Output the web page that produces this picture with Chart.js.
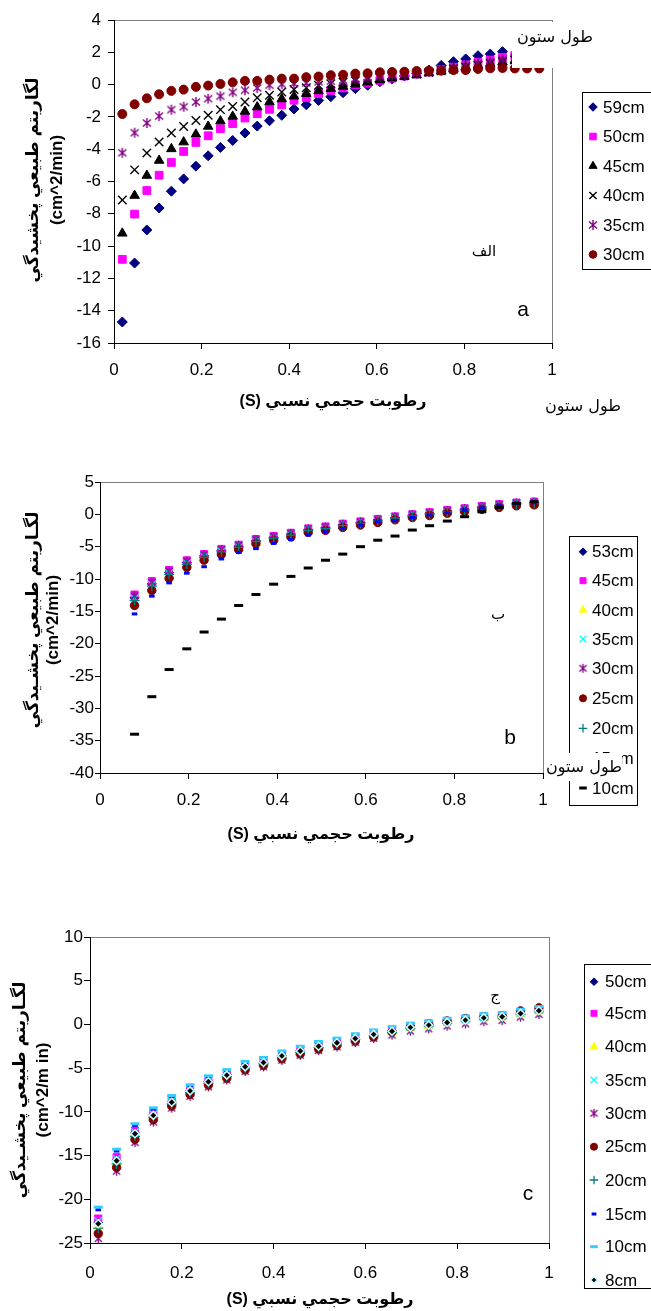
<!DOCTYPE html>
<html><head><meta charset="utf-8">
<script src="https://cdn.jsdelivr.net/npm/chart.js@4"></script>
<style>
html,body{margin:0;padding:0;background:#fff;}
body{width:651px;height:1311px;position:relative;overflow:hidden;}
.wrap{position:absolute;left:0;width:651px;}
canvas{display:block;}
</style></head><body>
<div class="wrap" style="top:0px;height:430px"><canvas id="ca" width="651" height="430"></canvas></div>
<div class="wrap" style="top:440px;height:420px"><canvas id="cb" width="651" height="420"></canvas></div>
<div class="wrap" style="top:900px;height:411px"><canvas id="cc" width="651" height="411"></canvas></div>
<script>
// ---------- DATA ----------
const xTicks = [0, 0.2, 0.4, 0.6, 0.8, 1];
// chart a
const xA = [0.019,0.047,0.075,0.103,0.131,0.159,0.187,0.215,0.243,0.271,0.299,0.327,0.355,0.383,0.411,0.439,0.467,0.495,0.523,0.551,0.579,0.607,0.635,0.663,0.691,0.719,0.747,0.775,0.803,0.831,0.859,0.887,0.915,0.943,0.971];
const a59 = [-14.7,-11.05,-9.0,-7.64,-6.6,-5.84,-5.05,-4.41,-3.89,-3.46,-3.0,-2.57,-2.24,-1.9,-1.51,-1.25,-0.98,-0.75,-0.5,-0.25,-0.04,0.18,0.35,0.53,0.7,0.9,1.19,1.42,1.59,1.79,1.89,2.04];
const a50 = [-10.82,-8.02,-6.56,-5.61,-4.82,-4.14,-3.58,-3.17,-2.73,-2.42,-2.07,-1.8,-1.53,-1.26,-0.97,-0.8,-0.56,-0.36,-0.2,-0.02,0.1,0.26,0.4,0.53,0.65,0.78,0.92,1.08,1.22,1.38,1.52,1.68,1.8];
const a45 = [-9.21,-6.87,-5.63,-4.7,-3.98,-3.56,-3.08,-2.59,-2.26,-1.97,-1.66,-1.39,-1.08,-0.89,-0.72,-0.56,-0.39,-0.25,-0.12,0.02,0.15,0.28,0.4,0.5,0.6,0.72,0.84,0.96,1.08,1.2,1.3,1.4,1.5];
const a40 = [-7.14,-5.28,-4.24,-3.56,-3.0,-2.59,-2.22,-1.9,-1.55,-1.35,-1.08,-0.81,-0.66,-0.46,-0.31,-0.19,-0.04,0.06,0.15,0.24,0.32,0.42,0.5,0.58,0.66,0.76,0.86,0.96,1.08,1.2,1.3,1.42,1.52];
const a35 = [-4.22,-2.98,-2.38,-1.95,-1.55,-1.37,-1.08,-0.87,-0.72,-0.48,-0.35,-0.21,-0.04,0.02,0.06,0.1,0.17,0.21,0.28,0.36,0.42,0.5,0.56,0.62,0.7,0.8,0.92,1.04,1.16,1.3,1.42,1.55,1.65];
const a30 = [-1.82,-1.22,-0.85,-0.6,-0.39,-0.31,-0.14,-0.06,0.04,0.14,0.23,0.23,0.31,0.37,0.37,0.46,0.5,0.58,0.61,0.68,0.7,0.76,0.78,0.8,0.84,0.86,0.86,0.9,0.9,0.97,1.01,1.03,1.0,1.0,1.0];
const labelsA = ['59cm','50cm','45cm','40cm','35cm','30cm'];
// chart b
const xB = [0.078,0.117,0.156,0.196,0.235,0.274,0.313,0.352,0.392,0.431,0.470,0.509,0.548,0.588,0.627,0.666,0.705,0.744,0.784,0.823,0.862,0.901,0.940,0.980];
const b53 = [-12.9,-10.76,-9.0,-7.44,-6.43,-5.6,-4.92,-4.03,-3.54,-3.05,-2.36,-2.06,-1.62,-1.27,-0.87,-0.48,-0.14,0.17,0.52,0.79,1.12,1.42,1.67,1.82];
const b45 = [-12.4,-10.33,-8.62,-7.11,-6.15,-5.35,-4.7,-3.82,-3.34,-2.86,-2.18,-1.88,-1.45,-1.1,-0.71,-0.32,0.01,0.32,0.67,0.94,1.27,1.57,1.82,1.97];
const b40 = [-13.6,-11.36,-9.53,-7.9,-6.82,-5.95,-5.24,-4.33,-3.82,-3.31,-2.61,-2.31,-1.86,-1.5,-1.1,-0.69,-0.35,-0.04,0.31,0.58,0.91,1.21,1.46,1.61];
const b35 = [-13.0,-10.85,-9.08,-7.5,-6.48,-5.65,-4.97,-4.07,-3.58,-3.09,-2.39,-2.1,-1.66,-1.3,-0.9,-0.51,-0.17,0.14,0.49,0.76,1.09,1.39,1.64,1.79];
const b30 = [-12.6,-10.5,-8.78,-7.25,-6.27,-5.45,-4.79,-3.91,-3.42,-2.93,-2.25,-1.96,-1.52,-1.17,-0.78,-0.38,-0.05,0.26,0.61,0.88,1.21,1.51,1.76,1.91];
const b25 = [-14.1,-11.78,-9.9,-8.22,-7.09,-6.2,-5.46,-4.54,-4.02,-3.5,-2.79,-2.48,-2.03,-1.66,-1.26,-0.85,-0.5,-0.19,0.16,0.43,0.76,1.06,1.31,1.46];
const b20 = [-13.3,-11.1,-9.3,-7.7,-6.65,-5.8,-5.1,-4.2,-3.7,-3.2,-2.5,-2.2,-1.76,-1.4,-1.0,-0.6,-0.26,0.05,0.4,0.67,1.0,1.3,1.55,1.7];
const b15 = [-15.4,-12.65,-10.6,-9.1,-8.1,-6.9,-5.9,-5.3,-4.5,-3.9,-3.2,-2.7,-2.2,-1.65,-1.15,-1.0,-0.47,-0.1,0.25,0.67,1.0,1.33,1.7,1.8];
const b10 = [-34.0,-28.2,-24.0,-20.8,-18.2,-16.2,-14.1,-12.4,-10.8,-9.6,-8.3,-7.1,-6.15,-5.0,-4.0,-3.36,-2.43,-1.76,-1.04,-0.37,0.4,1.08,1.7,1.95];
const labelsB = ['53cm','45cm','40cm','35cm','30cm','25cm','20cm','15cm','10cm'];
// chart c
const xC = [0.018,0.058,0.098,0.138,0.178,0.218,0.258,0.298,0.338,0.378,0.418,0.458,0.498,0.538,0.578,0.618,0.658,0.698,0.738,0.778,0.818,0.858,0.898,0.938,0.978];
const c50 = [-22.7,-15.53,-12.44,-10.36,-8.86,-7.56,-6.52,-5.77,-4.82,-4.32,-3.57,-3.02,-2.47,-2.07,-1.57,-1.11,-0.74,-0.31,-0.05,0.26,0.52,0.78,0.9,1.29,1.59];
const c45 = [-22.2,-15.18,-12.14,-10.13,-8.66,-7.38,-6.34,-5.6,-4.66,-4.17,-3.42,-2.88,-2.33,-1.93,-1.43,-0.98,-0.61,-0.18,0.08,0.38,0.64,0.9,1.02,1.41,1.71];
const c40 = [-23.1,-15.81,-12.68,-10.54,-9.02,-7.71,-6.66,-5.9,-4.95,-4.44,-3.69,-3.14,-2.59,-2.18,-1.68,-1.22,-0.85,-0.42,-0.16,0.16,0.42,0.68,0.8,1.19,1.49];
const c35 = [-22.5,-15.39,-12.32,-10.27,-8.78,-7.49,-6.45,-5.7,-4.75,-4.26,-3.51,-2.96,-2.41,-2.02,-1.52,-1.06,-0.69,-0.26,0.0,0.31,0.57,0.83,0.95,1.34,1.64];
const c30 = [-24.5,-16.79,-13.52,-11.17,-9.58,-8.23,-7.15,-6.36,-5.39,-4.86,-4.11,-3.54,-2.99,-2.58,-2.08,-1.6,-1.23,-0.78,-0.52,-0.2,0.06,0.32,0.44,0.83,1.13];
const c25 = [-23.9,-16.37,-13.16,-10.9,-9.34,-8.01,-6.94,-6.16,-5.2,-4.68,-3.93,-3.37,-2.82,-2.41,-1.91,-1.44,-0.85,-0.3,0.05,0.4,0.68,0.85,0.95,1.55,1.9];
const c20 = [-23.3,-15.95,-12.8,-10.63,-9.1,-7.79,-6.73,-5.97,-5.01,-4.5,-3.75,-3.2,-2.65,-2.24,-1.74,-1.28,-0.91,-0.47,-0.21,0.11,0.37,0.63,0.75,1.14,1.44];
const c15 = [-21.2,-14.48,-11.54,-9.68,-8.26,-7.01,-5.99,-5.27,-4.34,-3.87,-3.12,-2.59,-2.04,-1.65,-1.15,-0.71,-0.34,0.08,0.34,0.63,0.89,1.15,1.27,1.66,1.96];
const c10 = [-20.9,-14.27,-11.36,-9.54,-8.14,-6.9,-5.88,-5.17,-4.24,-3.78,-3.03,-2.5,-1.95,-1.57,-1.07,-0.63,-0.26,0.15,0.41,0.71,0.97,1.23,1.35,1.74,2.04];
const c8  = [-22.8,-15.6,-12.5,-10.4,-8.9,-7.6,-6.55,-5.8,-4.85,-4.35,-3.6,-3.05,-2.5,-2.1,-1.6,-1.14,-0.77,-0.34,-0.08,0.23,0.49,0.75,0.87,1.26,1.56];
const labelsC = ['50cm','45cm','40cm','35cm','30cm','25cm','20cm','15cm','10cm','8cm'];

// ---------- STYLE HELPERS ----------
const FONT = '"Liberation Sans", Arial, "DejaVu Sans", sans-serif';
Chart.defaults.font.family = FONT;
Chart.defaults.font.size = 17;
Chart.defaults.color = '#000';

function asterisk(color, size, lw) {
  const c = document.createElement('canvas');
  c.width = size; c.height = size;
  const g = c.getContext('2d');
  g.strokeStyle = color; g.lineWidth = lw;
  const m = size / 2, d = size / 2 - 1;
  g.beginPath();
  g.moveTo(m - d * 0.8, m - d * 0.7); g.lineTo(m + d * 0.8, m + d * 0.7);
  g.moveTo(m + d * 0.8, m - d * 0.7); g.lineTo(m - d * 0.8, m + d * 0.7);
  g.moveTo(m, m - d); g.lineTo(m, m + d);
  g.stroke();
  return c;
}

function mk(label, xs, ys, style, fill, r, extra) {
  return Object.assign({
    label: label,
    data: ys.map((y, i) => ({x: xs[i], y: y})),
    pointStyle: style,
    backgroundColor: fill,
    borderColor: fill,
    borderWidth: 1,
    pointRadius: r,
    pointHoverRadius: r,
    showLine: false
  }, extra || {});
}

function drawMarker(ctx, d, x, y, scale) {
  ctx.save();
  ctx.fillStyle = d.backgroundColor;
  ctx.strokeStyle = d.borderColor;
  ctx.lineWidth = d.borderWidth;
  const opts = {pointStyle: d.pointStyle, rotation: 0, radius: d.pointRadius * scale, borderWidth: d.borderWidth};
  if (Chart.helpers && Chart.helpers.drawPoint) {
    Chart.helpers.drawPoint(ctx, opts, x, y);
  } else {
    ctx.beginPath(); ctx.arc(x, y, opts.radius, 0, Math.PI * 2); ctx.fill();
  }
  ctx.restore();
}

function extrasPlugin(top, ex) {
  return {
    id: 'extras',
    beforeDraw(chart) {
      const ctx = chart.ctx, a = chart.chartArea;
      ctx.save();
      ctx.strokeStyle = '#808080'; ctx.lineWidth = 1;
      ctx.strokeRect(Math.round(a.left) + 0.5, Math.round(a.top) + 0.5, Math.round(a.right - a.left), Math.round(a.bottom - a.top));
      ctx.restore();
    },
    afterDraw(chart) {
      const ctx = chart.ctx;
      ctx.save();
      // legend
      const L = ex.legend;
      ctx.strokeStyle = '#000'; ctx.lineWidth = 1;
      ctx.strokeRect(L.box[0] + 0.5, L.box[1] - top + 0.5, L.box[2] - L.box[0], L.box[3] - L.box[1]);
      ctx.font = '17px ' + FONT;
      ctx.textBaseline = 'middle'; ctx.textAlign = 'left'; ctx.fillStyle = '#000';
      chart.data.datasets.forEach((d, i) => {
        const yy = L.ys[i] - top;
        drawMarker(ctx, d, L.mx, yy, 0.85);
        ctx.fillStyle = '#000';
        ctx.font = '17px ' + FONT;
        ctx.fillText(d.label, L.tx, yy + 1);
      });
      // boxed labels (white background)
      (ex.boxes || []).forEach(b => {
        ctx.fillStyle = '#fff';
        ctx.fillRect(b.box[0], b.box[1] - top, b.box[2] - b.box[0], b.box[3] - b.box[1]);
        ctx.fillStyle = '#000';
        ctx.font = b.font; ctx.textAlign = 'center'; ctx.textBaseline = 'middle';
        ctx.fillText(b.text, b.x, b.y - top);
      });
      // plain labels
      (ex.labels || []).forEach(b => {
        ctx.fillStyle = '#000';
        ctx.font = b.font; ctx.textAlign = 'center'; ctx.textBaseline = 'middle';
        ctx.fillText(b.text, b.x, b.y - top);
      });
      // x title
      ctx.font = 'bold 16px ' + FONT;
      ctx.direction = 'rtl';
      ctx.textAlign = 'center'; ctx.textBaseline = 'middle';
      ctx.fillText(ex.xTitle.text, ex.xTitle.x, ex.xTitle.y - top);
      ctx.direction = 'ltr';
      // y title
      ex.yTitle.lines.forEach(l => {
        ctx.save();
        ctx.translate(l.x, ex.yTitle.cy - top);
        ctx.rotate(-Math.PI / 2);
        ctx.font = 'bold 17px ' + FONT;
        ctx.textAlign = 'center'; ctx.textBaseline = 'middle';
        ctx.direction = l.rtl ? 'rtl' : 'ltr';
        ctx.fillText(l.text, 0, 0);
        ctx.restore();
      });
      ctx.restore();
    }
  };
}

function makeChart(id, top, H, area, y, datasets, tk, ex) {
  const n = datasets.length;
  datasets.forEach((d, i) => { d.order = n - i; });
  const YW = 60, XH = 40;
  return new Chart(document.getElementById(id), {
    type: 'scatter',
    data: {datasets: datasets},
    options: {
      responsive: false, animation: false, devicePixelRatio: 1, events: [],
      layout: {padding: {left: area.l - YW, top: area.t - top, right: 651 - area.r, bottom: H - (area.b - top) - XH}},
      plugins: {legend: {display: false}, tooltip: {enabled: false}, title: {display: false}},
      scales: {
        x: {
          type: 'linear', min: 0, max: 1,
          afterFit: s => { s.height = XH; },
          afterBuildTicks: s => { s.ticks = xTicks.map(v => ({value: v})); },
          ticks: {padding: tk.xpad, font: {size: 17}, color: '#000', callback: v => String(+v.toFixed(1))},
          grid: {display: true, drawOnChartArea: false, drawTicks: true, tickLength: 6, color: '#000'},
          border: {display: true, color: '#000', width: 1}
        },
        y: {
          type: 'linear', min: y.min, max: y.max,
          afterFit: s => { s.width = YW; },
          afterBuildTicks: s => { s.ticks = y.ticks.map(v => ({value: v})); },
          ticks: {padding: tk.ypad, font: {size: 17}, color: '#000', callback: v => String(v)},
          grid: {display: true, drawOnChartArea: false, drawTicks: true, tickLength: tk.ylen, color: '#000'},
          border: {display: true, color: '#000', width: 1}
        }
      }
    },
    plugins: [extrasPlugin(top, ex)]
  });
}

const NAVY = '#000080', MAG = '#FF00FF', YEL = '#FFFF00', CYAN = '#00FFFF', PUR = '#800080', DRED = '#800000', TEAL = '#008080', BLUE = '#0000FF', SKY = '#33CCFF';
const yTicksA = [4, 2, 0, -2, -4, -6, -8, -10, -12, -14, -16];
const yTicksB = [5, 0, -5, -10, -15, -20, -25, -30, -35, -40];
const yTicksC = [10, 5, 0, -5, -10, -15, -20, -25];
const AR_Y = 'لگاريتم طبيعي پخشيدگي';
const AR_X = 'رطوبت حجمي نسبي (S)';
const COL = 'طول ستون';

// ---------- CHART A ----------
makeChart('ca', 0, 430, {l: 114, t: 20, r: 552, b: 343}, {min: -16, max: 4, ticks: yTicksA}, [
  mk(labelsA[0], xA, a59, 'rectRot', NAVY, 5),
  mk(labelsA[1], xA, a50, 'rect', MAG, 5.5),
  mk(labelsA[2], xA, a45, 'triangle', '#000', 5.5),
  mk(labelsA[3], xA, a40, 'crossRot', '#000', 6, {borderWidth: 1.4}),
  mk(labelsA[4], xA, a35, asterisk(PUR, 12, 1.4), PUR, 6),
  mk(labelsA[5], xA, a30, 'circle', DRED, 4.5)
], {xpad: 11, ypad: 7, ylen: 6}, {
  legend: {box: [582, 92, 660, 269], mx: 593, tx: 603, ys: [107, 136.5, 166, 195.5, 225, 254.5]},
  boxes: [{text: COL, x: 555, y: 38, box: [512, 22, 600, 68], font: '16px "DejaVu Sans"'}],
  labels: [
    {text: 'الف', x: 484, y: 252, font: '15px "DejaVu Sans"'},
    {text: 'a', x: 523, y: 310, font: '21px ' + FONT},
    {text: COL, x: 583, y: 407, font: '16px "DejaVu Sans"'}
  ],
  xTitle: {text: AR_X, x: 333, y: 402},
  yTitle: {cy: 180, lines: [{text: AR_Y, x: 33, rtl: true}, {text: '(cm^2/min)', x: 57}]}
});

// ---------- CHART B ----------
makeChart('cb', 440, 420, {l: 100, t: 482, r: 543, b: 773}, {min: -40, max: 5, ticks: yTicksB}, [
  mk(labelsB[0], xB, b53, 'rectRot', NAVY, 4.5),
  mk(labelsB[1], xB, b45, 'rect', MAG, 5),
  mk(labelsB[2], xB, b40, 'triangle', YEL, 5),
  mk(labelsB[3], xB, b35, 'crossRot', CYAN, 5.5, {borderWidth: 1.3}),
  mk(labelsB[4], xB, b30, asterisk(PUR, 11, 1.3), PUR, 5.5),
  mk(labelsB[5], xB, b25, 'circle', DRED, 4.2),
  mk(labelsB[6], xB, b20, 'cross', TEAL, 5, {borderWidth: 1.3}),
  mk(labelsB[7], xB, b15, 'line', BLUE, 2.8, {borderWidth: 3}),
  mk(labelsB[8], xB, b10, 'line', '#000', 4.5, {borderWidth: 3})
], {xpad: 11, ypad: 1, ylen: 5}, {
  legend: {box: [569, 536, 637, 805], mx: 583, tx: 592, ys: [551.7, 580.7, 610, 639, 668.3, 698.3, 728.3, 758, 788]},
  boxes: [{text: COL, x: 584, y: 768, box: [546, 753, 622, 781], font: '16px "DejaVu Sans"'}],
  labels: [
    {text: 'ب', x: 498, y: 615, font: '15px "DejaVu Sans"'},
    {text: 'b', x: 510, y: 738, font: '21px ' + FONT}
  ],
  xTitle: {text: AR_X, x: 321, y: 835},
  yTitle: {cy: 620, lines: [{text: 'لگـاريتم طبيعي پخشـيدگي', x: 33, rtl: true}, {text: '(cm^2/min)', x: 53}]}
});

// ---------- CHART C ----------
makeChart('cc', 900, 411, {l: 90, t: 937, r: 549, b: 1243}, {min: -25, max: 10, ticks: yTicksC}, [
  mk(labelsC[0], xC, c50, 'rectRot', NAVY, 4.5),
  mk(labelsC[1], xC, c45, 'rect', MAG, 5),
  mk(labelsC[2], xC, c40, 'triangle', YEL, 5),
  mk(labelsC[3], xC, c35, 'crossRot', CYAN, 5.5, {borderWidth: 1.3}),
  mk(labelsC[4], xC, c30, asterisk(PUR, 11, 1.3), PUR, 5.5),
  mk(labelsC[5], xC, c25, 'circle', DRED, 4.2),
  mk(labelsC[6], xC, c20, 'cross', TEAL, 5, {borderWidth: 1.3}),
  mk(labelsC[7], xC, c15, 'line', BLUE, 2.8, {borderWidth: 3}),
  mk(labelsC[8], xC, c10, 'line', SKY, 4.5, {borderWidth: 3}),
  mk(labelsC[9], xC, c8, 'rectRot', '#000', 4, {borderColor: '#CCFFFF', borderWidth: 1.5})
], {xpad: 14, ypad: 1, ylen: 6}, {
  legend: {box: [584, 964, 652, 1288], mx: 594, tx: 605, ys: [981.7, 1013.3, 1046.7, 1080, 1113.3, 1146.7, 1180, 1214, 1246.7, 1280]},
  boxes: [],
  labels: [
    {text: 'ج', x: 495, y: 996, font: '15px "DejaVu Sans"'},
    {text: 'c', x: 528, y: 1194, font: '21px ' + FONT}
  ],
  xTitle: {text: AR_X, x: 320, y: 1300},
  yTitle: {cy: 1090, lines: [{text: 'لگـاريتم طبيعي پخشـيدگي', x: 20, rtl: true}, {text: '(cm^2/m in)', x: 43}]}
});
</script>
</body></html>
